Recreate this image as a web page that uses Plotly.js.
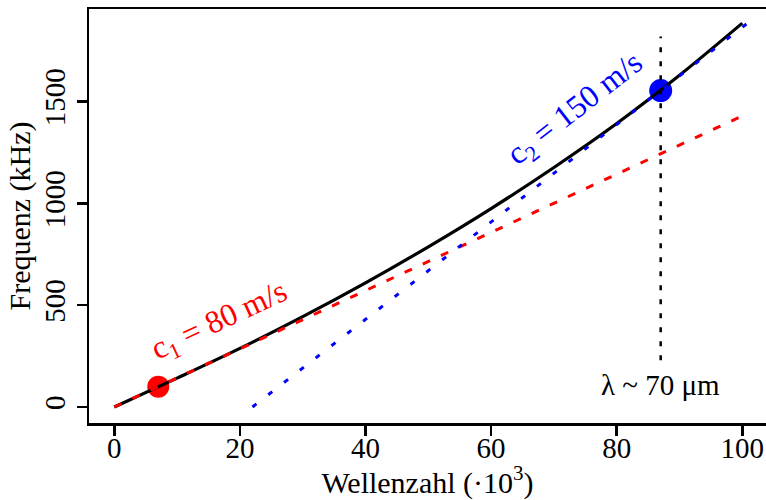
<!DOCTYPE html>
<html>
<head>
<meta charset="utf-8">
<script src="https://cdn.plot.ly/plotly-3.0.1.min.js"></script>
<style>html,body{margin:0;padding:0;background:#fff;}#chart{width:766px;height:500px;}</style>
</head>
<body>
<div id="chart"></div>
<script>
// Dispersion curve (black)
const kCurve = [0, 10, 20, 30, 40, 50, 60, 70, 80, 90, 100];
const fCurve = [0, 142, 288, 444, 610, 787, 975, 1177, 1393, 1630, 1886];
// Tangent line c1 = 80 m/s (red dashed)
const kRed = [0, 100];
const fRed = [0, 1430];
// Tangent line c2 = 150 m/s (blue dashed)
const kBlue = [22, 101];
const fBlue = [0, 1890];
// Marked points
const kPtRed = [7];
const fPtRed = [100];
const kPtBlue = [87];
const fPtBlue = [1555];
// Vertical marker at lambda ~ 70 um
const kVert = [87, 87];
const fVert = [230, 1820];
// Axis ticks
const xTicks = [0, 20, 40, 60, 80, 100];
const yTicks = [0, 500, 1000, 1500];

const FONT = "Liberation Serif, Times New Roman, serif";

const traces = [
  {x: kPtRed, y: fPtRed, mode: 'markers', marker: {color: '#ff0000', size: 22}, hoverinfo: 'skip'},
  {x: kPtBlue, y: fPtBlue, mode: 'markers', marker: {color: '#0000ff', size: 23}, hoverinfo: 'skip'},
  {x: kVert, y: fVert, mode: 'lines', line: {color: '#000000', width: 2.5, dash: '5px,9px'}, hoverinfo: 'skip'},
  {x: kCurve, y: fCurve, mode: 'lines', line: {color: '#000000', width: 3.2, shape: 'spline', smoothing: 1}, hoverinfo: 'skip'},
  {x: kRed, y: fRed, mode: 'lines', line: {color: '#ff0000', width: 3, dash: '8px,12px'}, hoverinfo: 'skip'},
  {x: kBlue, y: fBlue, mode: 'lines', line: {color: '#0000ff', width: 3, dash: '5px,15px'}, hoverinfo: 'skip'}
];

const layout = {
  width: 766, height: 500,
  margin: {l: 89, r: 0, t: 9, b: 77, pad: 0},
  paper_bgcolor: '#ffffff', plot_bgcolor: '#ffffff',
  showlegend: false,
  font: {family: FONT, size: 29, color: '#000000'},
  xaxis: {
    range: [-4.03, 103.77], tickvals: xTicks, ticktext: xTicks.map(String),
    showgrid: false, zeroline: false, showline: true, linecolor: '#000', linewidth: 2.5,
    mirror: true, ticks: 'outside', ticklen: 10, tickwidth: 2.5, tickcolor: '#000',
    ticklabelstandoff: -12,
    tickfont: {family: FONT, size: 29, color: '#000'},
    title: {text: 'Wellenzahl (·10<sup>3</sup>)', font: {family: FONT, size: 30, color: '#000'}, standoff: 15}
  },
  yaxis: {
    range: [-78.6, 1955.5], tickvals: yTicks, ticktext: yTicks.map(String),
    showgrid: false, zeroline: false, showline: true, linecolor: '#000', linewidth: 2.5,
    mirror: false, ticks: 'outside', ticklen: 10, tickwidth: 2.5, tickcolor: '#000',
    tickangle: -90,
    tickfont: {family: FONT, size: 29, color: '#000'},
    title: {text: 'Frequenz (kHz)', font: {family: FONT, size: 30, color: '#000'}, standoff: 0}
  },
  annotations: [
    {x: 16.8, y: 419, xref: 'x', yref: 'y', text: 'c<sub>1</sub> = 80 m/s', showarrow: false,
     textangle: -25, font: {family: FONT, size: 32, color: '#ff0000'}},
    {x: 73.5, y: 1460, xref: 'x', yref: 'y', text: 'c<sub>2</sub> = 150 m/s', showarrow: false,
     textangle: -38, font: {family: FONT, size: 32, color: '#0000ff'}},
    {x: 87, y: 108, xref: 'x', yref: 'y', text: 'λ ~ 70 μm', showarrow: false,
     font: {family: FONT, size: 29, color: '#000000'}}
  ]
};

Plotly.newPlot('chart', traces, layout, {staticPlot: true, displayModeBar: false});
</script>
</body>
</html>
